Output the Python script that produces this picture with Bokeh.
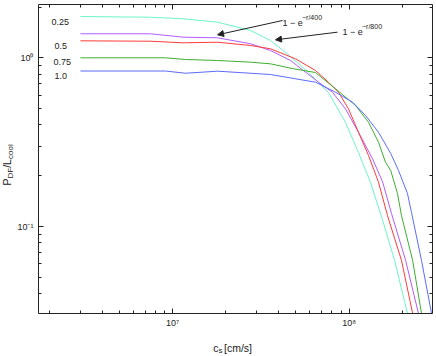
import math
from bokeh.plotting import figure
from bokeh.models import (LogAxis, FixedTicker, Label, Arrow, NormalHead,
                          Range1d, ColumnDataSource)
from bokeh.embed import file_html
from bokeh.resources import INLINE

# ---------------- data ----------------
cs_025 = [3.01e6, 7.50e6, 1.15e7, 1.80e7, 2.77e7, 3.59e7, 4.66e7, 5.89e7, 7.64e7,
          9.54e7, 1.130e8, 1.322e8, 1.55e8, 1.81e8, 2.14e8]
p_025 = [1.757, 1.740, 1.703, 1.626, 1.452, 1.266, 1.018, 0.818, 0.623,
         0.414, 0.2746, 0.1823, 0.1085, 0.0629, 0.0305]

cs_050 = [3.01e6, 7.50e6, 1.15e7, 1.80e7, 2.77e7, 3.59e7, 4.97e7, 6.45e7, 7.64e7,
          8.71e7, 9.92e7, 1.130e8, 1.288e8, 1.467e8, 1.65e8, 1.98e8, 2.29e8]
p_050 = [1.261, 1.254, 1.227, 1.237, 1.183, 1.131, 0.986, 0.841, 0.717,
         0.625, 0.498, 0.362, 0.2636, 0.183, 0.116, 0.0629, 0.0305]

cs_e400 = [3.01e6, 7.50e6, 1.15e7, 1.80e7, 2.77e7, 3.59e7, 4.66e7, 6.71e7, 8.05e7,
           9.54e7, 1.130e8, 1.357e8, 1.55e8, 1.738e8, 2.09e8, 2.47e8]
p_e400 = [1.388, 1.388, 1.325, 1.314, 1.211, 1.105, 0.964, 0.717, 0.625,
          0.498, 0.362, 0.252, 0.183, 0.1194, 0.0629, 0.0305]

cs_075 = [3.01e6, 9.13e6, 1.185e7, 1.80e7, 2.77e7, 3.59e7, 4.84e7, 6.45e7, 8.38e7,
          1.087e8, 1.288e8, 1.467e8, 1.607e8, 1.72e8, 1.879e8, 1.98e8, 2.29e8, 2.57e8]
p_075 = [1.0, 1.0, 0.977, 0.964, 0.942, 0.921, 0.861, 0.818, 0.655,
         0.522, 0.415, 0.316, 0.2405, 0.215, 0.157, 0.116, 0.0629, 0.0305]

cs_100 = [3.01e6, 9.13e6, 1.185e7, 1.80e7, 2.77e7, 3.59e7, 4.97e7, 6.45e7, 8.38e7,
          1.046e8, 1.239e8, 1.467e8, 1.72e8, 1.904e8, 2.14e8, 2.256e8, 2.57e8, 2.93e8]
p_100 = [0.835, 0.835, 0.810, 0.833, 0.810, 0.796, 0.751, 0.717, 0.625,
         0.546, 0.455, 0.362, 0.271, 0.215, 0.157, 0.121, 0.0629, 0.0305]

curve_labels = ["0.25", "0.5", "0.75", "1.0"]
arrow_texts = ["1 \u2212 e", "1 \u2212 e"]
arrow_sups = ["\u2212r/400", "\u2212r/800"]
arrow_tail_x = [4.20e7, 8.6e7]
arrow_tail_y = [1.664, 1.419]
arrow_head_x = [1.80e7, 3.83e7]
arrow_head_y = [1.369, 1.278]

x_ticks = [1e7, 1e8]
x_tick_labels = ["10\u2077", "10\u2078"]
y_ticks = [0.1, 1.0]
y_tick_labels = ["10\u207b\u00b9", "10\u2070"]
x_minor = [2e6, 3e6, 4e6, 5e6, 6e6, 7e6, 8e6, 9e6,
           2e7, 3e7, 4e7, 5e7, 6e7, 7e7, 8e7, 9e7, 2e8]
y_minor = [0.04, 0.05, 0.06, 0.07, 0.08, 0.09,
           0.2, 0.3, 0.4, 0.5, 0.6, 0.7, 0.8, 0.9, 2.0]

# axes box (data limits of the drawn box)
x_lo, x_hi = 1.742e6, 2.966e8
y_lo, y_hi = 0.0305, 2.07

# ---------------- figure ----------------
# The frame spans the whole canvas; the visible box is drawn by axes placed
# at fixed locations, so that titles outside the box are not clipped.
FONT = "Liberation Sans"
AX = "#222222"

p = figure(width=436, height=356, x_axis_type="log", y_axis_type="log",
           x_range=Range1d(1.0617e6, 3.125e8), y_range=Range1d(0.016959, 2.1863),
           output_backend="svg", toolbar_location=None,
           min_border_left=0, min_border_right=0, min_border_top=0,
           min_border_bottom=0)
p.xgrid.visible = False
p.ygrid.visible = False
p.outline_line_color = None
p.background_fill_color = "white"
p.border_fill_color = "white"

xt = FixedTicker(ticks=x_ticks, minor_ticks=x_minor)
yt = FixedTicker(ticks=y_ticks, minor_ticks=y_minor)


def style(ax, labels=True):
    ax.axis_line_color = AX
    ax.major_tick_line_color = AX
    ax.minor_tick_line_color = AX
    ax.major_tick_in = 5
    ax.major_tick_out = 0
    ax.minor_tick_in = 3
    ax.minor_tick_out = 0
    if labels:
        ax.major_label_text_font = FONT
        ax.major_label_text_font_size = "9px"
        ax.major_label_text_color = "#222222"
        ax.major_label_standoff = 5
    else:
        ax.major_label_text_font_size = "0px"
        ax.major_label_standoff = 0


bx = p.xaxis[0]
by = p.yaxis[0]
bx.ticker = xt
by.ticker = yt
bx.major_label_overrides = dict(zip(x_ticks, x_tick_labels))
by.major_label_overrides = dict(zip(y_ticks, y_tick_labels))
style(bx)
style(by)
by.major_label_orientation = "horizontal"
bx.fixed_location = y_lo
by.fixed_location = x_lo
bx.bounds = (x_lo, x_hi)
by.bounds = (y_lo, y_hi)

top_ax = LogAxis(ticker=xt, fixed_location=y_hi, bounds=(x_lo, x_hi),
                 major_label_overrides={x_ticks[0]: "", x_ticks[1]: ""})
right_ax = LogAxis(ticker=yt, fixed_location=x_hi, bounds=(y_lo, y_hi),
                   major_label_overrides={y_ticks[0]: "", y_ticks[1]: ""})
style(top_ax, labels=False)
style(right_ax, labels=False)
p.add_layout(top_ax, "above")
p.add_layout(right_ax, "right")

# ---------------- curves ----------------
series = [
    (cs_025, p_025, "#6cf5c8"),
    (cs_e400, p_e400, "#b35cff"),
    (cs_050, p_050, "#ff3b3b"),
    (cs_075, p_075, "#3fae32"),
    (cs_100, p_100, "#5b6bff"),
]
for xs, ys, col in series:
    p.line(xs, ys, line_color=col, line_width=1)


# ---------------- annotations (screen px from canvas bottom-left) ----------------
def lab(text, x, y, size="9px", angle=0.0, align="left"):
    p.add_layout(Label(x=x, y=y, x_units="screen", y_units="screen", text=text,
                       text_font=FONT, text_font_size=size, text_color="#222222",
                       text_baseline="middle", text_align=align, angle=angle))


for t, (lx, ly) in zip(curve_labels, [(51, 335), (54, 311), (53, 295), (54, 281)]):
    lab(t, lx, ly)

for t, s, (mx, my), (sx, sy) in zip(arrow_texts, arrow_sups,
                                    [(282, 333.5), (342, 324.5)],
                                    [(301.5, 339.5), (361.5, 330)]):
    lab(t, mx, my)
    lab(s, sx, sy, size="7px")

arr_src = ColumnDataSource(dict(x0=arrow_tail_x, y0=arrow_tail_y,
                                x1=arrow_head_x, y1=arrow_head_y))
p.add_layout(Arrow(x_start="x0", y_start="y0", x_end="x1", y_end="y1",
                   source=arr_src, line_color="#222222", line_width=1,
                   end=NormalHead(size=6, fill_color="#222222",
                                  line_color="#222222")))

# axis titles built from pieces so sub/superscripts stay real text
lab("c", 212.7, 9, size="10.5px")
lab("s", 218, 6, size="8px")
lab("[cm/s]", 223.5, 9, size="10.5px")

ang = math.pi / 2
lab("P", 6, 171, size="10.5px", angle=ang)
lab("DF", 10, 178, size="8px", angle=ang)
lab("/L", 6, 188.7, size="10.5px", angle=ang)
lab("cool", 10, 197.5, size="8px", angle=ang)

open("out.html", "w").write(file_html(p, INLINE))
